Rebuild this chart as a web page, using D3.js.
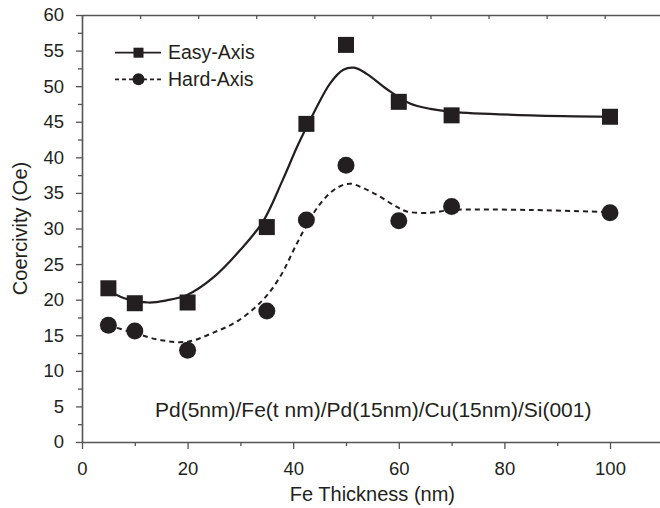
<!DOCTYPE html>
<html>
<head>
<meta charset="utf-8">
<script src="https://cdn.jsdelivr.net/npm/d3@7"></script>
<style>
  body { margin: 0; background: #fff; }
  text { font-family: "Liberation Sans", Arial, sans-serif; fill: #231f20; }
</style>
</head>
<body>
<div id="chart"></div>
<script>
// measured points
var thickness = [5, 10, 20, 35, 42.5, 50, 60, 70, 100];
var easyAxis = [21.6, 19.5, 19.6, 30.2, 44.7, 55.8, 47.8, 45.9, 45.7];
var hardAxis = [16.4, 15.6, 12.9, 18.4, 31.2, 38.9, 31.1, 33.1, 32.2];

// fit curves as drawn (x, y)
var easyFit = [[5, 21.3], [8, 20.2], [12.6, 19.6], [16, 19.9], [20, 20.7], [25, 23.2], [30, 27],
  [34.3, 31], [38, 36.8], [41, 41.9], [44, 46.4], [47, 50.4], [49.5, 52.3], [51.5, 52.6],
  [54, 51.7], [57.7, 49.6], [62, 47.6], [66, 46.8], [70, 46.4], [85, 45.9], [100, 45.7]];
var hardFit = [[5, 16.4], [10, 15.3], [15, 14.3], [20, 14.1], [25, 15.4], [29.7, 17.1], [34.3, 20],
  [37.5, 23.2], [40.7, 27.9], [43.8, 32.1], [46.3, 34.5], [48.5, 35.8], [50.8, 36.3], [53.5, 35.6],
  [56.4, 34.5], [59, 33.3], [61.5, 32.4], [65.9, 32.2], [70, 32.6], [85, 32.6], [100, 32.3]];

var xTicks = [0, 20, 40, 60, 80, 100];
var xMinor = [10, 30, 50, 70, 90];
var yTicks = [0, 5, 10, 15, 20, 25, 30, 35, 40, 45, 50, 55, 60];
var seriesNames = ["Easy-Axis", "Hard-Axis"];
var note = "Pd(5nm)/Fe(t nm)/Pd(15nm)/Cu(15nm)/Si(001)";

var width = 660, height = 508;
var plotLeft = 82, plotTop = 15, plotBottom = 442;

var svg = d3.select("#chart").append("svg")
  .attr("width", width)
  .attr("height", height);

var x = d3.scaleLinear().domain([0, 110]).range([plotLeft, plotLeft + 580.8]);
var y = d3.scaleLinear().domain([0, 60]).range([plotBottom, plotTop]);

var axisColor = "#555";

function styleAxis(g) {
  g.selectAll("path.domain").attr("stroke", axisColor).attr("stroke-width", 1.6);
  g.selectAll(".tick line").attr("stroke", axisColor).attr("stroke-width", 1.3);
}

// bottom axis
var gx = svg.append("g").attr("transform", "translate(0," + plotBottom + ")")
  .call(d3.axisBottom(x).tickValues(xTicks).tickSize(7).tickSizeOuter(0).tickPadding(13));
gx.selectAll(".tick text").attr("font-size", 18.5).attr("fill", "#231f20");
styleAxis(gx);
var gxm = svg.append("g").attr("transform", "translate(0," + plotBottom + ")")
  .call(d3.axisBottom(x).tickValues(xMinor).tickSize(4).tickFormat(""));
gxm.select("path.domain").remove();
styleAxis(gxm);

// top frame line, ticks pointing in
var gt = svg.append("g").attr("transform", "translate(0," + plotTop + ")")
  .call(d3.axisBottom(x).tickValues(d3.range(0, 111, 11)).tickSize(4).tickSizeOuter(0).tickFormat(""));
styleAxis(gt);

// left axis
var gy = svg.append("g").attr("transform", "translate(" + plotLeft + ",0)")
  .call(d3.axisLeft(y).tickValues(yTicks).tickSize(6).tickSizeOuter(0).tickPadding(12));
gy.selectAll(".tick text").attr("font-size", 18.5).attr("fill", "#231f20");
styleAxis(gy);
var gym = svg.append("g").attr("transform", "translate(" + plotLeft + ",0)")
  .call(d3.axisLeft(y).tickValues(yTicks.slice(0, -1).map(function (d) { return d + 2.5; })).tickSize(4).tickFormat(""));
gym.select("path.domain").remove();
styleAxis(gym);

// axis titles
svg.append("text")
  .attr("x", (plotLeft + 662.8) / 2).attr("y", 501)
  .attr("text-anchor", "middle").attr("font-size", 20)
  .text("Fe Thickness (nm)");
svg.append("text")
  .attr("transform", "translate(27," + (plotTop + plotBottom) / 2 + ") rotate(-90)")
  .attr("text-anchor", "middle").attr("font-size", 20)
  .text("Coercivity (Oe)");

// fit curves
var line = d3.line()
  .x(function (d) { return x(d[0]); })
  .y(function (d) { return y(d[1]); })
  .curve(d3.curveCatmullRom.alpha(0.5));

svg.append("path").datum(easyFit)
  .attr("d", line).attr("fill", "none")
  .attr("stroke", "#231f20").attr("stroke-width", 2.2);
svg.append("path").datum(hardFit)
  .attr("d", line).attr("fill", "none")
  .attr("stroke", "#231f20").attr("stroke-width", 2)
  .attr("stroke-dasharray", "5,4");

// markers
svg.selectAll("rect.easy")
  .data(thickness)
  .enter().append("rect")
  .attr("class", "easy")
  .attr("x", function (d) { return x(d) - 8; })
  .attr("y", function (d, i) { return y(easyAxis[i]) - 8; })
  .attr("width", 16).attr("height", 16)
  .attr("fill", "#231f20");

svg.selectAll("circle.hard")
  .data(thickness)
  .enter().append("circle")
  .attr("class", "hard")
  .attr("cx", function (d) { return x(d); })
  .attr("cy", function (d, i) { return y(hardAxis[i]); })
  .attr("r", 8.5)
  .attr("fill", "#231f20");

// legend
var legend = svg.append("g");
seriesNames.forEach(function (name, i) {
  var ly = 52.7 + i * 26.6;
  legend.append("line")
    .attr("x1", 115).attr("x2", 161).attr("y1", ly).attr("y2", ly)
    .attr("stroke", "#231f20").attr("stroke-width", 1.8)
    .attr("stroke-dasharray", i == 1 ? "4,3" : null);
  if (i == 0) {
    legend.append("rect")
      .attr("x", 133.5).attr("y", ly - 5).attr("width", 10).attr("height", 10)
      .attr("fill", "#231f20");
  } else {
    legend.append("circle")
      .attr("cx", 138.5).attr("cy", ly).attr("r", 6)
      .attr("fill", "#231f20");
  }
  legend.append("text")
    .attr("x", 168).attr("y", ly + 6.7)
    .attr("font-size", 19.5)
    .text(name);
});

// annotation
svg.append("text")
  .attr("x", 155).attr("y", 417)
  .attr("font-size", 21)
  .text(note);
</script>
</body>
</html>
